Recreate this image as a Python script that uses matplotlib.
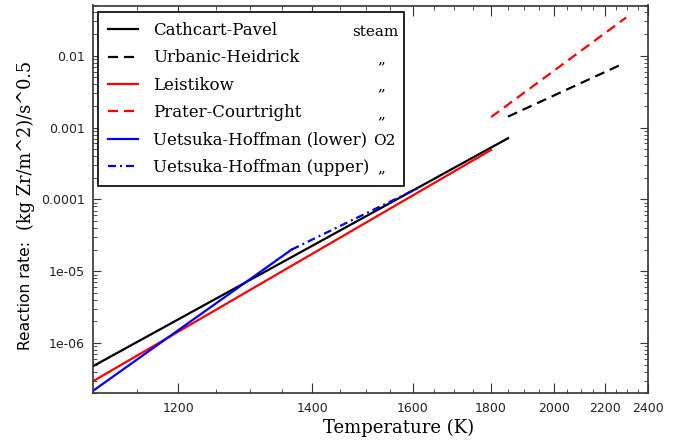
import numpy as np
import matplotlib
matplotlib.use("Agg")
import matplotlib.pyplot as plt
from matplotlib.ticker import FixedLocator, FixedFormatter, LogLocator, NullFormatter

# end points (temperature in K, rate) for each correlation; straight on a 1/T axis
cp_T = [1100, 1850]
cp_k = [4.74e-7, 7.1e-4]
uh_T = [1850, 2275]
uh_k = [1.42e-3, 7.6e-3]
le_T = [1100, 1800]
le_k = [2.93e-7, 4.88e-4]
pc_T = [1800, 2295]
pc_k = [1.40e-3, 0.034]
ul_T = [1100, 1365]
ul_k = [2.15e-7, 2.0e-5]
uu_T = [1365, 1620]
uu_k = [2.0e-5, 1.52e-4]

labels = ["Cathcart-Pavel", "Urbanic-Heidrick", "Leistikow", "Prater-Courtright",
          "Uetsuka-Hoffman (lower)", "Uetsuka-Hoffman (upper)"]
media = ["steam", "\u201e", "\u201e", "\u201e", "O2", "\u201e"]

x_major = [1200, 1400, 1600, 1800, 2000, 2200, 2400]
x_minor = list(range(1100, 2401, 50))
y_major = [1e-6, 1e-5, 1e-4, 1e-3, 1e-2]
y_labels = ["1e-06", "1e-05", "0.0001", "0.001", "0.01"]


def inv_t(t):
    with np.errstate(divide="ignore"):
        return -1.0 / np.asarray(t, dtype=float)


fig = plt.figure(figsize=(6.77, 4.41), dpi=100)
ax = fig.add_axes([92.7 / 677, 1 - 393.3 / 441, 554.9 / 677, 387.8 / 441])
ax.set_xscale("function", functions=(inv_t, inv_t))
ax.set_yscale("log")

lw = 1.6
ax.plot(cp_T, cp_k, color="black", lw=lw, label=labels[0])
ax.plot(uh_T, uh_k, color="black", lw=lw, dashes=(4.5, 2.7), label=labels[1])
ax.plot(le_T, le_k, color="#ff0000", lw=lw, label=labels[2])
ax.plot(pc_T, pc_k, color="#ff0000", lw=lw, dashes=(4.5, 2.7), label=labels[3])
ax.plot(ul_T, ul_k, color="#0000ff", lw=lw, label=labels[4])
ax.plot(uu_T, uu_k, color="#0000ff", lw=lw, dashes=(3.6, 1.8, 0.9, 1.8), label=labels[5])

ax.set_xlim(1100, 2400)
ax.set_ylim(2e-7, 0.05)

ax.xaxis.set_major_locator(FixedLocator(x_major))
ax.xaxis.set_major_formatter(FixedFormatter([str(v) for v in x_major]))
ax.xaxis.set_minor_locator(FixedLocator(x_minor))
ax.xaxis.set_minor_formatter(NullFormatter())
ax.yaxis.set_major_locator(FixedLocator(y_major))
ax.yaxis.set_major_formatter(FixedFormatter(y_labels))
ax.yaxis.set_minor_locator(LogLocator(base=10, subs=np.arange(2, 10)))
ax.yaxis.set_minor_formatter(NullFormatter())

ax.tick_params(which="both", direction="in", top=True, right=True,
               color="#333333", labelsize=9, labelcolor="#222222")
ax.tick_params(axis="x", which="major", length=7, pad=6)
ax.tick_params(axis="x", which="minor", length=3)
ax.tick_params(axis="y", which="major", length=5.5, pad=5.5)
ax.tick_params(axis="y", which="minor", length=3)
for sp in ax.spines.values():
    sp.set_color("#333333")
    sp.set_linewidth(1.2)

ax.set_xlabel("Temperature (K)", family="DejaVu Serif", fontsize=13)
ax.xaxis.set_label_coords(0.552, -0.0887)
ax.xaxis.label.set_va("center")
fig.text(26 / 677, 1 - 296 / 441, "Reaction rate:", rotation=90,
         ha="center", va="center", family="DejaVu Sans", fontsize=11.2)
fig.text(26 / 677, 1 - 145 / 441, "(kg Zr/m^2)/s^0.5", rotation=90,
         ha="center", va="center", family="DejaVu Serif", fontsize=12.8)

leg = ax.legend(loc="upper left", bbox_to_anchor=(0.0101, 0.5, 0.551, 0.4832),
                mode="expand", borderaxespad=0, fancybox=False, framealpha=1,
                edgecolor="black", prop={"family": "DejaVu Serif", "size": 12},
                handlelength=1.8, handletextpad=0.88, borderpad=0.6,
                labelspacing=0.62)
leg.get_frame().set_linewidth(1.2)

# second legend column: the medium for each correlation
fig.canvas.draw()
to_axes = ax.transAxes.inverted()
media_x = [0.4667, 0.5196, 0.5196, 0.5196, 0.5046, 0.5196]
for txt, medium, mx in zip(leg.get_texts(), media, media_x):
    bb = txt.get_window_extent()
    _, y0 = to_axes.transform((bb.x0, bb.y0))
    ha = "left" if medium != "\u201e" else "center"
    ax.text(mx, y0, medium, transform=ax.transAxes, ha=ha, va="bottom",
            family="DejaVu Serif", fontsize=11, zorder=10)

fig.savefig("out.png", dpi=100)
